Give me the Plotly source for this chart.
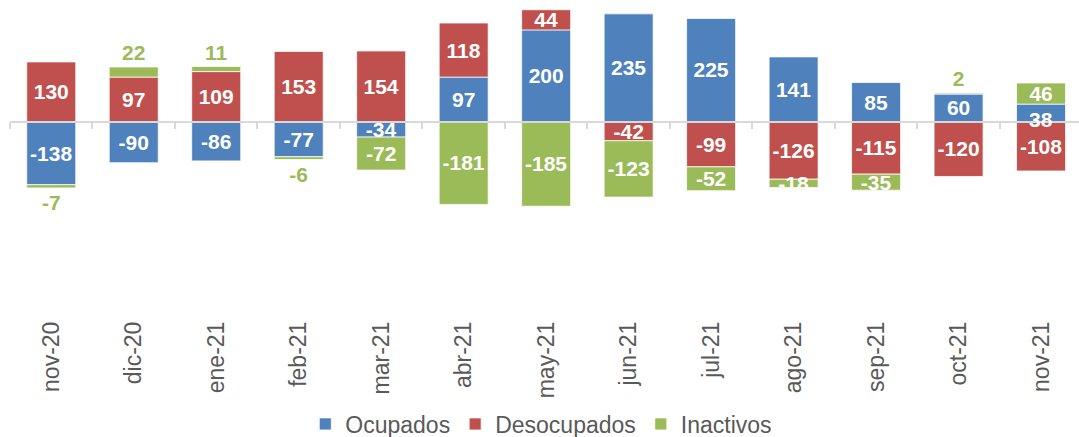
import plotly.graph_objects as go

categories = ["nov-20", "dic-20", "ene-21", "feb-21", "mar-21", "abr-21", "may-21",
              "jun-21", "jul-21", "ago-21", "sep-21", "oct-21", "nov-21"]
ocupados = [-138, -90, -86, -77, -34, 97, 200, 235, 225, 141, 85, 60, 38]
desocupados = [130, 97, 109, 153, 154, 118, 44, -42, -99, -126, -115, -120, -108]
inactivos = [-7, 22, 11, -6, -72, -181, -185, -123, -52, -18, -35, 2, 46]
# where each Inactivos label sits (as in the reference)
inactivos_label_pos = ["outside", "outside", "outside", "outside", "inside", "inside",
                       "inside", "inside", "inside", "inside", "inside", "outside", "inside"]

BLUE = "#4F81BD"
RED = "#C0504D"
GREEN = "#9BBB59"
GRAY = "#595959"
FONT = "Liberation Sans, Arial, sans-serif"

W, H = 1079, 437
T, B = 4, 121
Y_ZERO_PX = 121.5
PX_PER_UNIT = 0.458
ymax = (Y_ZERO_PX - T) / PX_PER_UNIT
ymin = -((H - B) - Y_ZERO_PX) / PX_PER_UNIT
zero_pos = (0 - ymin) / (ymax - ymin)

edge = dict(color="rgba(255,255,255,0.75)", width=1)
label_font = dict(family=FONT, size=21, color="white", weight="bold")

# the last Ocupados label is nudged down in the reference; drawn as annotation
ocup_text = [str(v) for v in ocupados]
ocup_text[-1] = ""

fig = go.Figure()
fig.add_trace(go.Bar(
    name="Ocupados", x=categories, y=ocupados, marker=dict(color=BLUE, line=edge),
    text=ocup_text, textposition="inside", insidetextanchor="middle",
    textangle=0, constraintext="none", insidetextfont=label_font, cliponaxis=False,
    hoverinfo="x+y",
))
fig.add_trace(go.Bar(
    name="Desocupados", x=categories, y=desocupados, marker=dict(color=RED, line=edge),
    text=[str(v) for v in desocupados], textposition="inside", insidetextanchor="middle",
    textangle=0, constraintext="none", insidetextfont=label_font, cliponaxis=False,
    hoverinfo="x+y",
))
fig.add_trace(go.Bar(
    name="Inactivos", x=categories, y=inactivos, marker=dict(color=GREEN, line=edge),
    text=[str(v) for v in inactivos],
    textposition=inactivos_label_pos,
    insidetextanchor="middle", textangle=0, constraintext="none",
    insidetextfont=label_font,
    outsidetextfont=dict(family=FONT, size=21, color=GREEN, weight="bold"),
    cliponaxis=False, hoverinfo="x+y",
))
# invisible helper trace for the zero-line axis with boundary ticks
fig.add_trace(go.Scatter(
    x=categories, y=[0] * len(categories), xaxis="x2", mode="markers",
    marker=dict(opacity=0), showlegend=False, hoverinfo="skip",
))

fig.add_annotation(
    x=categories[-1], y=ocupados[-1] / 2, xref="x", yref="y", text=str(ocupados[-1]),
    showarrow=False, yshift=-7, font=label_font,
)

fig.update_layout(
    width=W, height=H,
    margin=dict(l=10, r=0, t=T, b=B, autoexpand=False),
    barmode="relative", bargap=0.406,
    plot_bgcolor="white", paper_bgcolor="white",
    font=dict(family=FONT, color=GRAY),
    xaxis=dict(
        type="category", range=[-0.5, 12.46], tickangle=-90, automargin=False,
        tickfont=dict(family=FONT, size=23, color=GRAY),
        showline=False, ticks="", showgrid=False, zeroline=False,
    ),
    xaxis2=dict(
        type="category", overlaying="x", matches="x", anchor="free", position=zero_pos,
        showticklabels=False, showline=True, linecolor="#D9D9D9", linewidth=2,
        ticks="outside", tickson="boundaries", ticklen=6, tickcolor="#D9D9D9",
        tickwidth=2, showgrid=False, zeroline=False, automargin=False,
    ),
    yaxis=dict(range=[ymin, ymax], visible=False, showgrid=False, zeroline=False,
               automargin=False),
    legend=dict(
        orientation="h", x=0.497, xanchor="center", yref="container", y=13 / H,
        yanchor="middle", font=dict(family=FONT, size=23, color=GRAY),
        itemwidth=30, traceorder="normal",
    ),
    showlegend=True,
)

fig.write_html(
    "out.html",
    config={"displayModeBar": False},
    post_script="document.body.style.margin='0';document.body.style.overflow='hidden';",
)
